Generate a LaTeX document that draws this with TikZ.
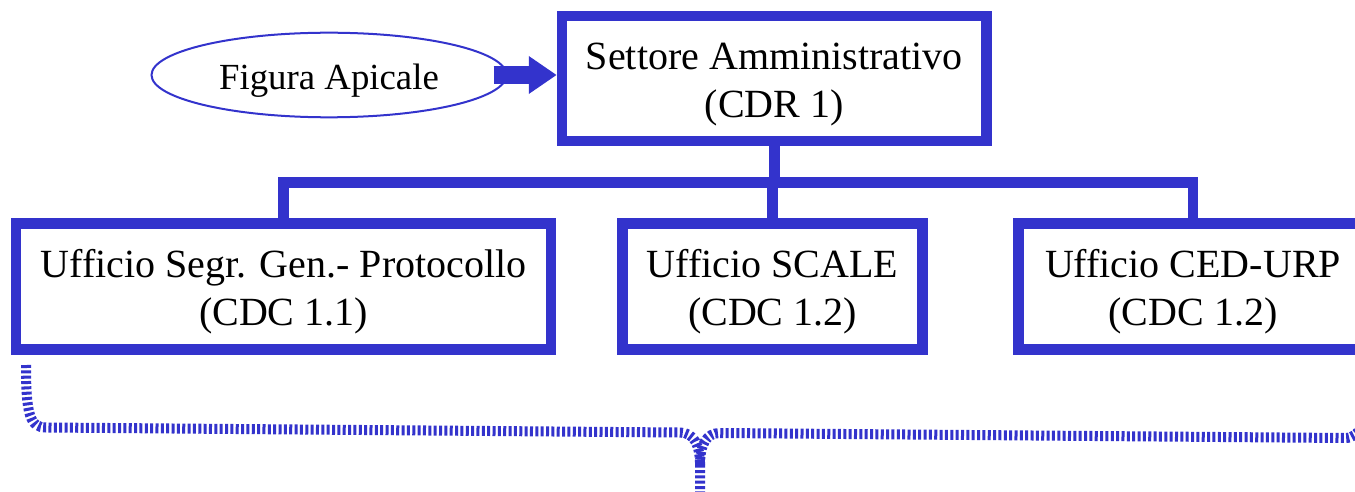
\documentclass[tikz,border=0pt]{standalone}
\usepackage{fontspec}
\setmainfont{Liberation Serif}
\usetikzlibrary{arrows.meta,shapes.geometric}
\definecolor{ublue}{RGB}{51,51,204}
\begin{document}
\begin{tikzpicture}[x=1pt,y=-1pt,
  orgbox/.style={draw=ublue, line width=10.5pt, align=center,
    font=\fontsize{40}{48}\selectfont, text height=78pt, text depth=0pt,
    inner sep=0pt},
  apex/.style={ellipse, draw=ublue, line width=2pt, inner sep=0pt,
    font=\fontsize{36.8}{44}\selectfont, text height=28.6pt, text depth=0pt},
  conn/.style={draw=ublue, line width=10.5pt, line join=miter},
  bigarrow/.style={draw=ublue, line width=18pt,
    -{Triangle[length=28pt,width=36pt]}},
  bracestyle/.style={draw=ublue, line width=10pt, dash pattern=on 3pt off 2.35pt}]
\useasboundingbox (0,0) rectangle (1355,492);
\clip (0,0) rectangle (1355,492);

% nodes
\node[orgbox, minimum width=424.5pt, minimum height=125pt] (top) at (774.25,78.75)
  {Settore Amministrativo\\(CDR 1)};
\node[apex, minimum width=355pt, minimum height=84.6pt] (fa) at (329,75) {Figura Apicale};
\node[orgbox, minimum width=535pt, minimum height=126pt] (l1) at (283.5,286.5)
  {Ufficio Segr. Gen.- Protocollo\\(CDC 1.1)};
\node[orgbox, minimum width=300pt, minimum height=126pt] (l2) at (772.5,286.5)
  {Ufficio SCALE\\(CDC 1.2)};
\node[orgbox, minimum width=349pt, minimum height=126pt] (l3) at (1193,286.5)
  {Ufficio CED-URP\\(CDC 1.2)};

% arrow from Figura Apicale
\draw[bigarrow] ([xshift=-14pt]fa.east) -- (fa.east -| top.west);

% tree connectors
\coordinate (bus) at (774.25,182.5);
\draw[conn] (top.south) -- (bus);
\draw[conn] (l1.north) |- (bus) -| (l3.north);
\draw[conn] (l2.north |- bus) -- (l2.north);

% brace
\coordinate (bl) at (26,365);
\coordinate (bm) at (700,500);
\coordinate (br) at (1362,426);
\draw[bracestyle] (bl) .. controls (26,415) and (30,427.5) .. (46,427.5)
  -- (680,432.5) .. controls (694,432.6) and (700,445) .. (700,465) -- (bm);
\draw[bracestyle] (700,465) .. controls (700,445) and (706,433) .. (720,433)
  -- (1345,438) .. controls (1353,438) and (1357,434) .. (br);
\end{tikzpicture}
\end{document}
